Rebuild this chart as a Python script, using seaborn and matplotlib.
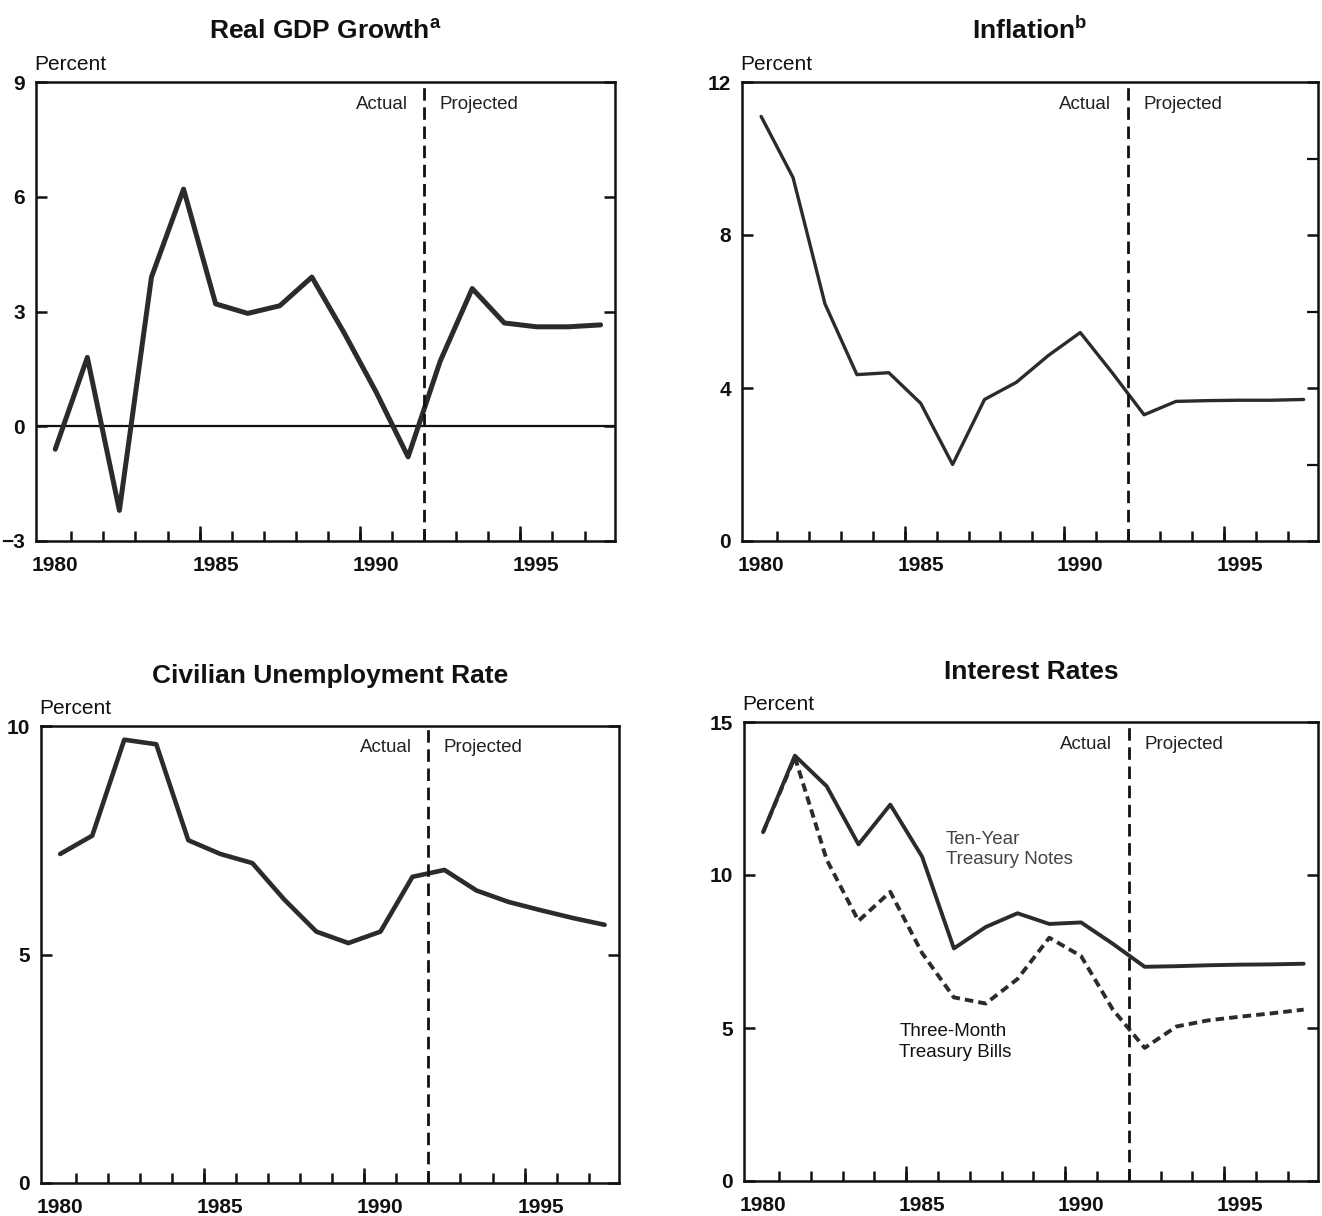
import matplotlib
matplotlib.use("Agg")
import matplotlib.pyplot as plt
import seaborn as sns
import pandas as pd

# ---- data -------------------------------------------------------------
years = list(range(1980, 1998))

gdp_growth = [-0.6, 1.8, -2.2, 3.9, 6.2, 3.2, 2.95, 3.15, 3.9, 2.45, 0.9, -0.8,
              1.7, 3.6, 2.7, 2.6, 2.6, 2.65]

inflation = [11.1, 9.5, 6.2, 4.35, 4.4, 3.6, 2.0, 3.7, 4.15, 4.85, 5.45, 4.4,
             3.3, 3.65, 3.67, 3.68, 3.68, 3.7]

unemployment = [7.2, 7.6, 9.7, 9.6, 7.5, 7.2, 7.0, 6.2, 5.5, 5.25, 5.5, 6.7,
                6.85, 6.4, 6.15, 5.97, 5.8, 5.65]

ten_year_notes = [11.4, 13.9, 12.9, 11.0, 12.3, 10.6, 7.6, 8.3, 8.75, 8.4, 8.45,
                  7.75, 7.0, 7.02, 7.05, 7.07, 7.08, 7.1]

three_month_bills = [11.4, 13.85, 10.5, 8.5, 9.45, 7.45, 6.0, 5.8, 6.6, 7.95,
                     7.35, 5.6, 4.35, 5.05, 5.25, 5.37, 5.48, 5.6]

panel_titles = ["Real GDP Growth$^{\\mathbf{a}}$", "Inflation$^{\\mathbf{b}}$",
                "Civilian Unemployment Rate", "Interest Rates"]
year_labels = [1980, 1985, 1990, 1995]
split_year = 1991.5

# ---- style ------------------------------------------------------------
sns.set_theme(style="white")
plt.rcParams["font.family"] = ["Liberation Sans", "DejaVu Sans"]
plt.rcParams["mathtext.fontset"] = "custom"
plt.rcParams["mathtext.rm"] = "Liberation Sans"
plt.rcParams["mathtext.bf"] = "Liberation Sans:bold"
plt.rcParams["axes.unicode_minus"] = True

INK = "#2b2b2b"
W, H = 1322, 1216
fig = plt.figure(figsize=(W / 100, H / 100), dpi=100)
fig.patch.set_facecolor("white")


def make_axes(left, right, top, bottom):
    return fig.add_axes([left / W, 1 - bottom / H, (right - left) / W, (bottom - top) / H])


ax_gdp = make_axes(36, 615, 82, 541)
ax_inf = make_axes(742, 1318, 82, 541)
ax_une = make_axes(41, 619, 726, 1183)
ax_int = make_axes(744, 1318, 722, 1181)


def frame(ax, title, ylim, yticks, ylabels, minor_right=None):
    ax.set_facecolor("white")
    for sp in ax.spines.values():
        sp.set_visible(True)
        sp.set_color("#111111")
        sp.set_linewidth(1.8)
    ax.set_xlim(1979.4, 1997.45)
    ax.set_ylim(*ylim)
    # year labels (no tick mark) and short inward ticks between years
    ax.set_xticks(year_labels)
    ax.set_xticklabels([str(y) for y in year_labels])
    ax.set_xticks([y + 0.5 for y in range(1980, 1997)], minor=True)
    ax.tick_params(axis="x", which="major", length=0, pad=11,
                   labelsize=15)
    ax.tick_params(axis="x", which="minor", direction="in", length=7,
                   width=1.8, color="#111111", bottom=True, top=False)
    # longer ticks every five years
    sec = ax.secondary_xaxis("bottom")
    sec.set_xticks([1984.5, 1989.5, 1994.5])
    sec.tick_params(direction="in", length=11, width=1.8, color="#111111",
                    labelbottom=False)
    sec.spines["bottom"].set_visible(False)

    ax.set_yticks(yticks)
    ax.set_yticklabels(ylabels)
    ax.tick_params(axis="y", which="major", direction="in", length=8,
                   width=1.8, color="#111111", left=True, right=True,
                   labelsize=15, pad=8)
    if minor_right is not None:
        ax.set_yticks(minor_right, minor=True)
        ax.tick_params(axis="y", which="minor", direction="in", length=8,
                       width=1.6, color="#111111", left=False, right=True)
    for lab in ax.get_xticklabels() + ax.get_yticklabels():
        lab.set_fontweight("bold")
        lab.set_color("#111111")

    ax.set_title(title, fontsize=19, fontweight="bold", pad=31, color="#111111")
    ax.annotate("Percent", xy=(0, 1), xycoords="axes fraction",
                xytext=(-1, 9), textcoords="offset points",
                ha="left", va="baseline", fontsize=15, color="#111111")

    # actual / projected divider
    ax.axvline(split_year, color="#111111", lw=2.0, ls=(0, (4.5, 2.4)), zorder=4)
    ax.annotate("Actual", xy=(split_year, 0.952),
                xycoords=("data", "axes fraction"), xytext=(-12, 0),
                textcoords="offset points", ha="right", va="center",
                fontsize=13.5, color="#222222")
    ax.annotate("Projected", xy=(split_year, 0.952),
                xycoords=("data", "axes fraction"), xytext=(11, 0),
                textcoords="offset points", ha="left", va="center",
                fontsize=13.5, color="#222222")
    ax.set_xlabel("")
    ax.set_ylabel("")


line_kw = dict(color=INK, solid_joinstyle="round", solid_capstyle="round",
               legend=False)

# Real GDP growth
ax_gdp.axhline(0, color="#111111", lw=1.6, zorder=1)
sns.lineplot(x=years, y=gdp_growth, ax=ax_gdp, lw=3.6, **line_kw)
frame(ax_gdp, panel_titles[0], (-3, 9), [-3, 0, 3, 6, 9],
      ["\u22123", "0", "3", "6", "9"])

# Inflation
sns.lineplot(x=years, y=inflation, ax=ax_inf, lw=2.4, **line_kw)
frame(ax_inf, panel_titles[1], (0, 12), [0, 4, 8, 12],
      ["0", "4", "8", "12"], minor_right=[2, 6, 10])

# Civilian unemployment rate
sns.lineplot(x=years, y=unemployment, ax=ax_une, lw=3.3, **line_kw)
frame(ax_une, panel_titles[2], (0, 10), [0, 5, 10], ["0", "5", "10"])

# Interest rates
rates = pd.DataFrame({
    "year": years * 2,
    "rate": ten_year_notes + three_month_bills,
    "series": ["Ten-Year Treasury Notes"] * len(years)
              + ["Three-Month Treasury Bills"] * len(years),
})
sns.lineplot(data=rates, x="year", y="rate", style="series",
             dashes={"Ten-Year Treasury Notes": "",
                     "Three-Month Treasury Bills": (2.2, 1.3)},
             ax=ax_int, lw=2.8, color=INK, legend=False)
frame(ax_int, panel_titles[3], (0, 15), [0, 5, 10, 15],
      ["0", "5", "10", "15"])
ax_int.text(1985.75, 11.45, "Ten-Year\nTreasury Notes", ha="left", va="top",
            fontsize=13.5, color="#444444", linespacing=1.25)
ax_int.text(1984.28, 5.15, "Three-Month\nTreasury Bills", ha="left", va="top",
            fontsize=13.5, color="#111111", linespacing=1.25)

fig.savefig("out.png", dpi=100, facecolor="white")
